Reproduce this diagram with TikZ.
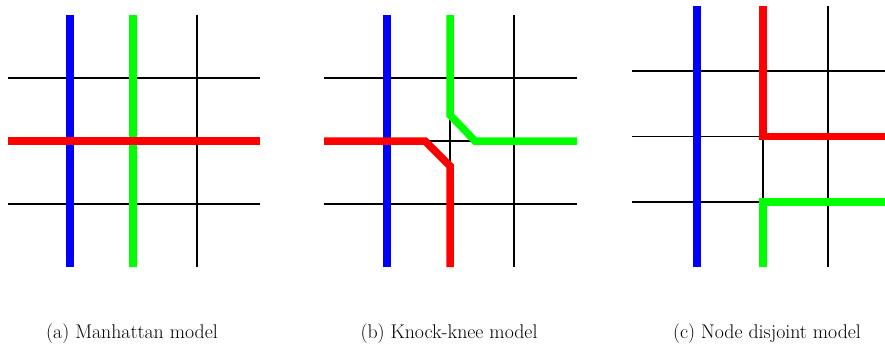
\documentclass[tikz,border=0pt]{standalone}
\usepackage{fontspec}
\begin{document}
\begin{tikzpicture}[x=1pt,y=-1pt,
  grid/.style={draw=black,line width=1.4pt},
  wire/.style={line width=7.5pt},
  captext/.style={font=\fontsize{19.8}{22}\selectfont,anchor=base,inner sep=0pt}]
\useasboundingbox (0,0) rectangle (885,343);
% ---------- panel (a)
\foreach \x in {70,133,197} \draw[grid] (\x,15) -- (\x,267);
\foreach \y in {78,141,204} \draw[grid] (8,\y) -- (260,\y);
\coordinate (aB1) at (70,15); \coordinate (aB2) at (70,267);
\coordinate (aG1) at (133,15); \coordinate (aG2) at (133,267);
\coordinate (aR1) at (8,141); \coordinate (aR2) at (260,141);
\draw[wire,blue] (aB1) -- (aB2);
\draw[wire,green] (aG1) -- (aG2);
\draw[wire,red] (aR1) -- (aR2);
% ---------- panel (b)
\foreach \x in {387,450,514} \draw[grid] (\x,15) -- (\x,267);
\foreach \y in {78,141,204} \draw[grid] (324,\y) -- (577,\y);
\coordinate (bB1) at (387,15); \coordinate (bB2) at (387,267);
\coordinate (bG1) at (450,15); \coordinate (bG2) at (450,115);
\coordinate (bG3) at (475,141); \coordinate (bG4) at (577,141);
\coordinate (bR1) at (324,141); \coordinate (bR2) at (425,141);
\coordinate (bR3) at (450,166); \coordinate (bR4) at (450,267);
\draw[wire,blue] (bB1) -- (bB2);
\draw[wire,green] (bG1) -- (bG2) -- (bG3) -- (bG4);
\draw[wire,red] (bR1) -- (bR2) -- (bR3) -- (bR4);
% ---------- panel (c)
\foreach \x in {697,763,828} \draw[grid] (\x,6) -- (\x,267);
\foreach \y in {71,136.5,202} \draw[grid] (632,\y) -- (885,\y);
\coordinate (cB1) at (697,6); \coordinate (cB2) at (697,267);
\coordinate (cR1) at (763,6); \coordinate (cR2) at (763,136.5); \coordinate (cR3) at (885,136.5);
\coordinate (cG1) at (763,267); \coordinate (cG2) at (763,202); \coordinate (cG3) at (885,202);
\draw[wire,blue] (cB1) -- (cB2);
\draw[wire,red,line join=miter] (cR1) -- (cR2) -- (cR3);
\draw[wire,green,line join=miter] (cG1) -- (cG2) -- (cG3);
% ---------- captions
\node[captext] (capa) at (132,338) {(a) Manhattan model};
\node[captext] (capb) at (449,338) {(b) Knock-knee model};
\node[captext] (capc) at (767,338) {(c) Node disjoint model};
\end{tikzpicture}
\end{document}
